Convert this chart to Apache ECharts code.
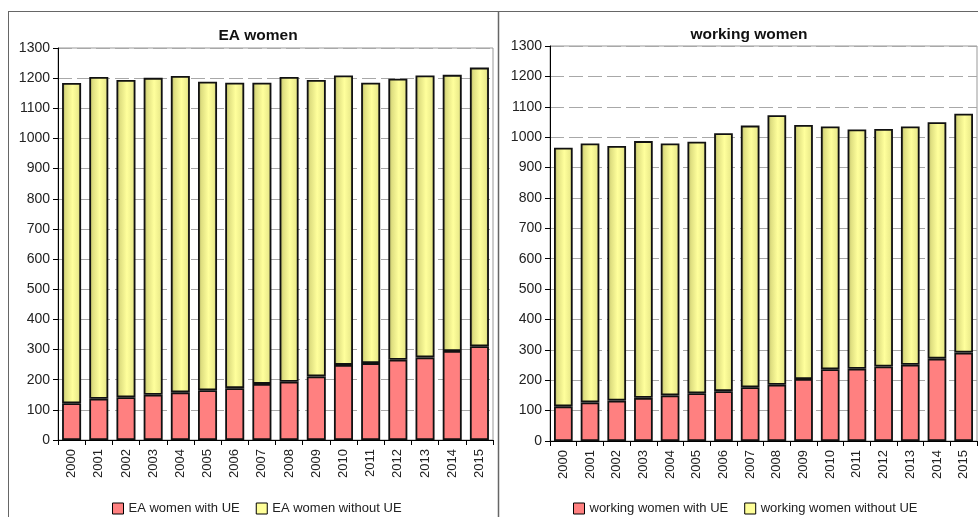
<!DOCTYPE html>
<html><head><meta charset="utf-8">
<script src="https://cdn.jsdelivr.net/npm/echarts@6/dist/echarts.min.js"></script>
<style>html,body{margin:0;padding:0;background:#fff}#c{width:978px;height:517px}</style>
</head><body><div id="c"></div>
<script>
var years = ['2000','2001','2002','2003','2004','2005','2006','2007','2008','2009','2010','2011','2012','2013','2014','2015'];
var eaTotal = [1184,1204,1194,1201,1207,1188,1185,1185,1204,1194,1209,1185,1198,1209,1211,1235];
var eaWithUE = [122,137,142,150,158,165,172,186,193,211,249,255,266,274,295,311];
var workTotal = [965,979,971,987,979,985,1013,1038,1072,1040,1035,1025,1027,1035,1049,1077];
var workWithUE = [114,127,133,142,150,157,164,177,185,204,236,238,245,251,271,291];
var yTicks = {min:0, max:1300, interval:100};

var eaWithoutUE = eaTotal.map(function(t,i){return t - eaWithUE[i];});
var workWithoutUE = workTotal.map(function(t,i){return t - workWithUE[i];});

var chart = echarts.init(document.getElementById('c'), null, {renderer:'canvas'});
var FONT = 'Liberation Sans, Arial, sans-serif';
var yellowGrad = new echarts.graphic.LinearGradient(0,0,1,0,[
  {offset:0,color:'#a4a45c'},{offset:0.18,color:'#dede80'},{offset:0.55,color:'#ffff9c'},
  {offset:0.85,color:'#ecec8c'},{offset:1,color:'#b4b468'}]);
var red = '#ff8080';

function xAxis(idx){
  return {type:'category', gridIndex:idx, data:years,
    axisLine:{lineStyle:{color:'#000',width:1}},
    axisTick:{show:true, length:5, lineStyle:{color:'#000'}},
    axisLabel:{rotate:90, margin:9, fontSize:13, color:'#222', fontFamily:FONT}};
}
function yAxis(idx){
  return {type:'value', gridIndex:idx, min:yTicks.min, max:yTicks.max, interval:yTicks.interval,
    axisLine:{show:true, lineStyle:{color:'#000',width:1}},
    axisTick:{show:true, length:5, lineStyle:{color:'#000'}},
    axisLabel:{fontSize:14, color:'#222', fontFamily:FONT, margin:8, formatter:function(v){return String(v);}},
    splitLine:{show:true, lineStyle:{color:'#a8a8a8', type:[14,5], width:1}}};
}
function bar(name, data, idx, color){
  return {name:name, type:'bar', stack:'s'+idx, xAxisIndex:idx, yAxisIndex:idx, data:data,
    barCategoryGap:'30%', legendIndex:idx,
    itemStyle:{color:color, borderColor:'#111', borderWidth:1.8}};
}
var legendStyle = {fontSize:13, color:'#222', fontFamily:FONT};

chart.setOption({
  animation:false,
  backgroundColor:'#fff',
  title:[
    {text:'EA women', left:253, top:23, textAlign:'center',
     textStyle:{fontSize:15.5, fontWeight:'bold', color:'#111', fontFamily:FONT}},
    {text:'working women', left:744, top:22, textAlign:'center',
     textStyle:{fontSize:15.5, fontWeight:'bold', color:'#111', fontFamily:FONT}}
  ],
  grid:[
    {left:58, top:48, width:435, height:392, show:true, borderColor:'#999', borderWidth:1, backgroundColor:'transparent'},
    {left:550, top:46, width:427, height:395, show:true, borderColor:'#999', borderWidth:1, backgroundColor:'transparent'}
  ],
  xAxis:[xAxis(0), xAxis(1)],
  yAxis:[yAxis(0), yAxis(1)],
  legend:[
    {left:107, top:497, orient:'horizontal', itemWidth:11, itemHeight:11, itemGap:16, padding:5,
     textStyle:legendStyle, selectedMode:false,
     data:[{name:'EA women with UE', icon:'rect', itemStyle:{color:red,borderColor:'#000',borderWidth:1}},
           {name:'EA women without UE', icon:'rect', itemStyle:{color:'#ffff99',borderColor:'#000',borderWidth:1}}]},
    {left:568, top:497, orient:'horizontal', itemWidth:11, itemHeight:11, itemGap:16, padding:5,
     textStyle:legendStyle, selectedMode:false,
     data:[{name:'working women with UE', icon:'rect', itemStyle:{color:red,borderColor:'#000',borderWidth:1}},
           {name:'working women without UE', icon:'rect', itemStyle:{color:'#ffff99',borderColor:'#000',borderWidth:1}}]}
  ],
  series:[
    bar('EA women with UE', eaWithUE, 0, red),
    bar('EA women without UE', eaWithoutUE, 0, yellowGrad),
    bar('working women with UE', workWithUE, 1, red),
    bar('working women without UE', workWithoutUE, 1, yellowGrad)
  ],
  graphic:[
    {type:'line', shape:{x1:8,y1:11.5,x2:978,y2:11.5}, style:{stroke:'#666',lineWidth:1}},
    {type:'line', shape:{x1:8.5,y1:11,x2:8.5,y2:517}, style:{stroke:'#666',lineWidth:1}},
    {type:'line', shape:{x1:498.5,y1:11,x2:498.5,y2:517}, style:{stroke:'#666',lineWidth:1.5}}
  ]
});
</script></body></html>
